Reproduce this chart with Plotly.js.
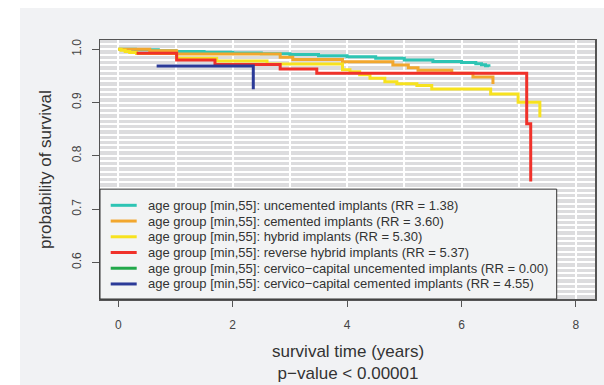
<!DOCTYPE html>
<html>
<head>
<meta charset="utf-8">
<script src="https://cdn.plot.ly/plotly-3.0.1.min.js"></script>
<style>
  html, body { margin: 0; padding: 0; background: #ffffff; }
  #chart { position: absolute; left: 20px; top: 8px; width: 584px; height: 377px; }
</style>
</head>
<body>
<div id="chart"></div>
<script>
// Kaplan-Meier survival estimates, age group [min,55], by implant type
const uncementedX = [0, 0.3, 0.7, 1.0, 1.5, 2.0, 2.5, 3.0, 3.5, 4.0, 4.5, 5.0, 5.5, 6.0, 6.25, 6.35, 6.42, 6.48];
const uncementedY = [1.0, 0.999, 0.997, 0.996, 0.9945, 0.993, 0.9915, 0.990, 0.988, 0.986, 0.983, 0.980, 0.977, 0.975, 0.973, 0.971, 0.969, 0.967];

const cementedX = [0, 0.55, 1.02, 2.83, 3.05, 3.92, 4.8, 5.07, 5.24, 5.83, 6.2, 6.55];
const cementedY = [1.0, 0.997, 0.991, 0.985, 0.981, 0.9765, 0.9705, 0.9655, 0.9606, 0.955, 0.948, 0.935];

const hybridX = [0, 0.05, 0.12, 0.2, 0.32, 1.02, 1.72, 2.6, 3.92, 4.05, 4.22, 4.4, 4.66, 4.87, 5.22, 5.48, 6.51, 6.99, 7.37];
const hybridY = [1.0, 0.998, 0.996, 0.994, 0.992, 0.983, 0.978, 0.9725, 0.9615, 0.958, 0.952, 0.9456, 0.939, 0.9355, 0.932, 0.9256, 0.916, 0.9006, 0.8725];

const reverseHybridX = [0.32, 1.02, 1.69, 2.83, 3.47, 7.14, 7.21];
const reverseHybridY = [0.9925, 0.980, 0.9715, 0.963, 0.955, 0.86, 0.752];

const cervicoUncementedX = [];
const cervicoUncementedY = [];

const cervicoCementedX = [0.67, 2.36];
const cervicoCementedY = [0.9687, 0.925];

const seriesNames = [
  'age group [min,55]: uncemented implants (RR = 1.38)',
  'age group [min,55]: cemented implants (RR = 3.60)',
  'age group [min,55]: hybrid implants (RR = 5.30)',
  'age group [min,55]: reverse hybrid implants (RR = 5.37)',
  'age group [min,55]: cervico\u2212capital uncemented implants (RR = 0.00)',
  'age group [min,55]: cervico\u2212capital cemented implants (RR = 4.55)'
];
const seriesColors = ['#2ec4b4', '#f2a72e', '#f7e21f', '#f0312a', '#22a84a', '#2b3a98'];

const xTicks = [0, 2, 4, 6, 8];
const yTicks = [0.6, 0.7, 0.8, 0.9, 1.0];

const xs = [uncementedX, cementedX, hybridX, reverseHybridX, cervicoUncementedX, cervicoCementedX];
const ys = [uncementedY, cementedY, hybridY, reverseHybridY, cervicoUncementedY, cervicoCementedY];

const FONT = 'Liberation Sans, Arial, Helvetica, sans-serif';

const traces = xs.map((x, i) => ({
  type: 'scatter',
  mode: 'lines',
  x: x,
  y: ys[i],
  name: seriesNames[i],
  line: { shape: 'hv', color: seriesColors[i], width: 3 },
  showlegend: false,
  hoverinfo: 'skip'
}));

// plot area size in pixels, used to place the hand-built legend and titles
const W = 495, H = 259.3;
const px = d => d / W;          // horizontal pixel offset -> paper fraction
const py = d => 1 - d / H;      // vertical pixel offset from top -> paper fraction

const shapes = [];
const annotations = [];

// legend box in the lower-left corner of the plot area
const legTop = 149.3;
shapes.push({
  type: 'rect', xref: 'paper', yref: 'paper',
  x0: 0, x1: px(456.7), y0: py(259.3), y1: py(legTop),
  fillcolor: '#f2f3f4', line: { color: '#333333', width: 1 }, layer: 'above'
});
seriesNames.forEach((name, i) => {
  const rowY = py(165.5 + i * 15.75);
  shapes.push({
    type: 'line', xref: 'paper', yref: 'paper',
    x0: px(10.7), x1: px(36.7), y0: rowY, y1: rowY,
    line: { color: seriesColors[i], width: 3 }, layer: 'above'
  });
  annotations.push({
    xref: 'paper', yref: 'paper', x: px(45.5), y: rowY,
    xanchor: 'left', yanchor: 'middle', showarrow: false,
    text: name, font: { family: FONT, size: 13, color: '#333333' }
  });
});

// axis titles
annotations.push({
  xref: 'paper', yref: 'paper', x: px(-54.5), y: 0.5,
  xanchor: 'center', yanchor: 'middle', showarrow: false, textangle: -90,
  text: 'probability of survival', font: { family: FONT, size: 17, color: '#333333' }
});
annotations.push({
  xref: 'paper', yref: 'paper', x: 0.5, y: py(H + 63.2),
  xanchor: 'center', yanchor: 'middle', showarrow: false,
  text: 'survival time (years)<br>p\u2212value < 0.00001',
  font: { family: FONT, size: 17, color: '#333333' }
});

const layout = {
  width: 584, height: 377,
  margin: { l: 80, r: 9, t: 32, b: 85.7 },
  paper_bgcolor: '#f1f2f4',
  plot_bgcolor: '#dcdcde',
  showlegend: false,
  font: { family: FONT, size: 12, color: '#444444' },
  xaxis: {
    range: [-0.32, 8.334],
    tickvals: xTicks,
    ticks: 'outside', ticklen: 6, tickwidth: 1, tickcolor: '#555555',
    ticklabelstandoff: 8,
    showline: true, mirror: true, linecolor: '#555555', linewidth: 1.5,
    showgrid: true, gridcolor: '#ffffff', gridwidth: 2,
    minor: { dtick: 1, showgrid: true, gridcolor: '#ffffff', gridwidth: 2 },
    zeroline: false,
    tickfont: { family: FONT, size: 12, color: '#444444' }
  },
  yaxis: {
    range: [0.5312, 1.0174],
    tickvals: yTicks,
    tickformat: '.1f',
    tickangle: -90,
    ticks: 'outside', ticklen: 7, tickwidth: 1, tickcolor: '#555555',
    ticklabelstandoff: 6,
    showline: true, mirror: true, linecolor: '#555555', linewidth: 1.5,
    showgrid: true, gridcolor: '#ffffff', gridwidth: 2,
    minor: { dtick: 0.01, showgrid: true, gridcolor: '#ffffff', gridwidth: 2 },
    zeroline: false,
    tickfont: { family: FONT, size: 12, color: '#444444' }
  },
  shapes: shapes,
  annotations: annotations
};

Plotly.newPlot('chart', traces, layout, { displayModeBar: false, staticPlot: true });
</script>
</body>
</html>
